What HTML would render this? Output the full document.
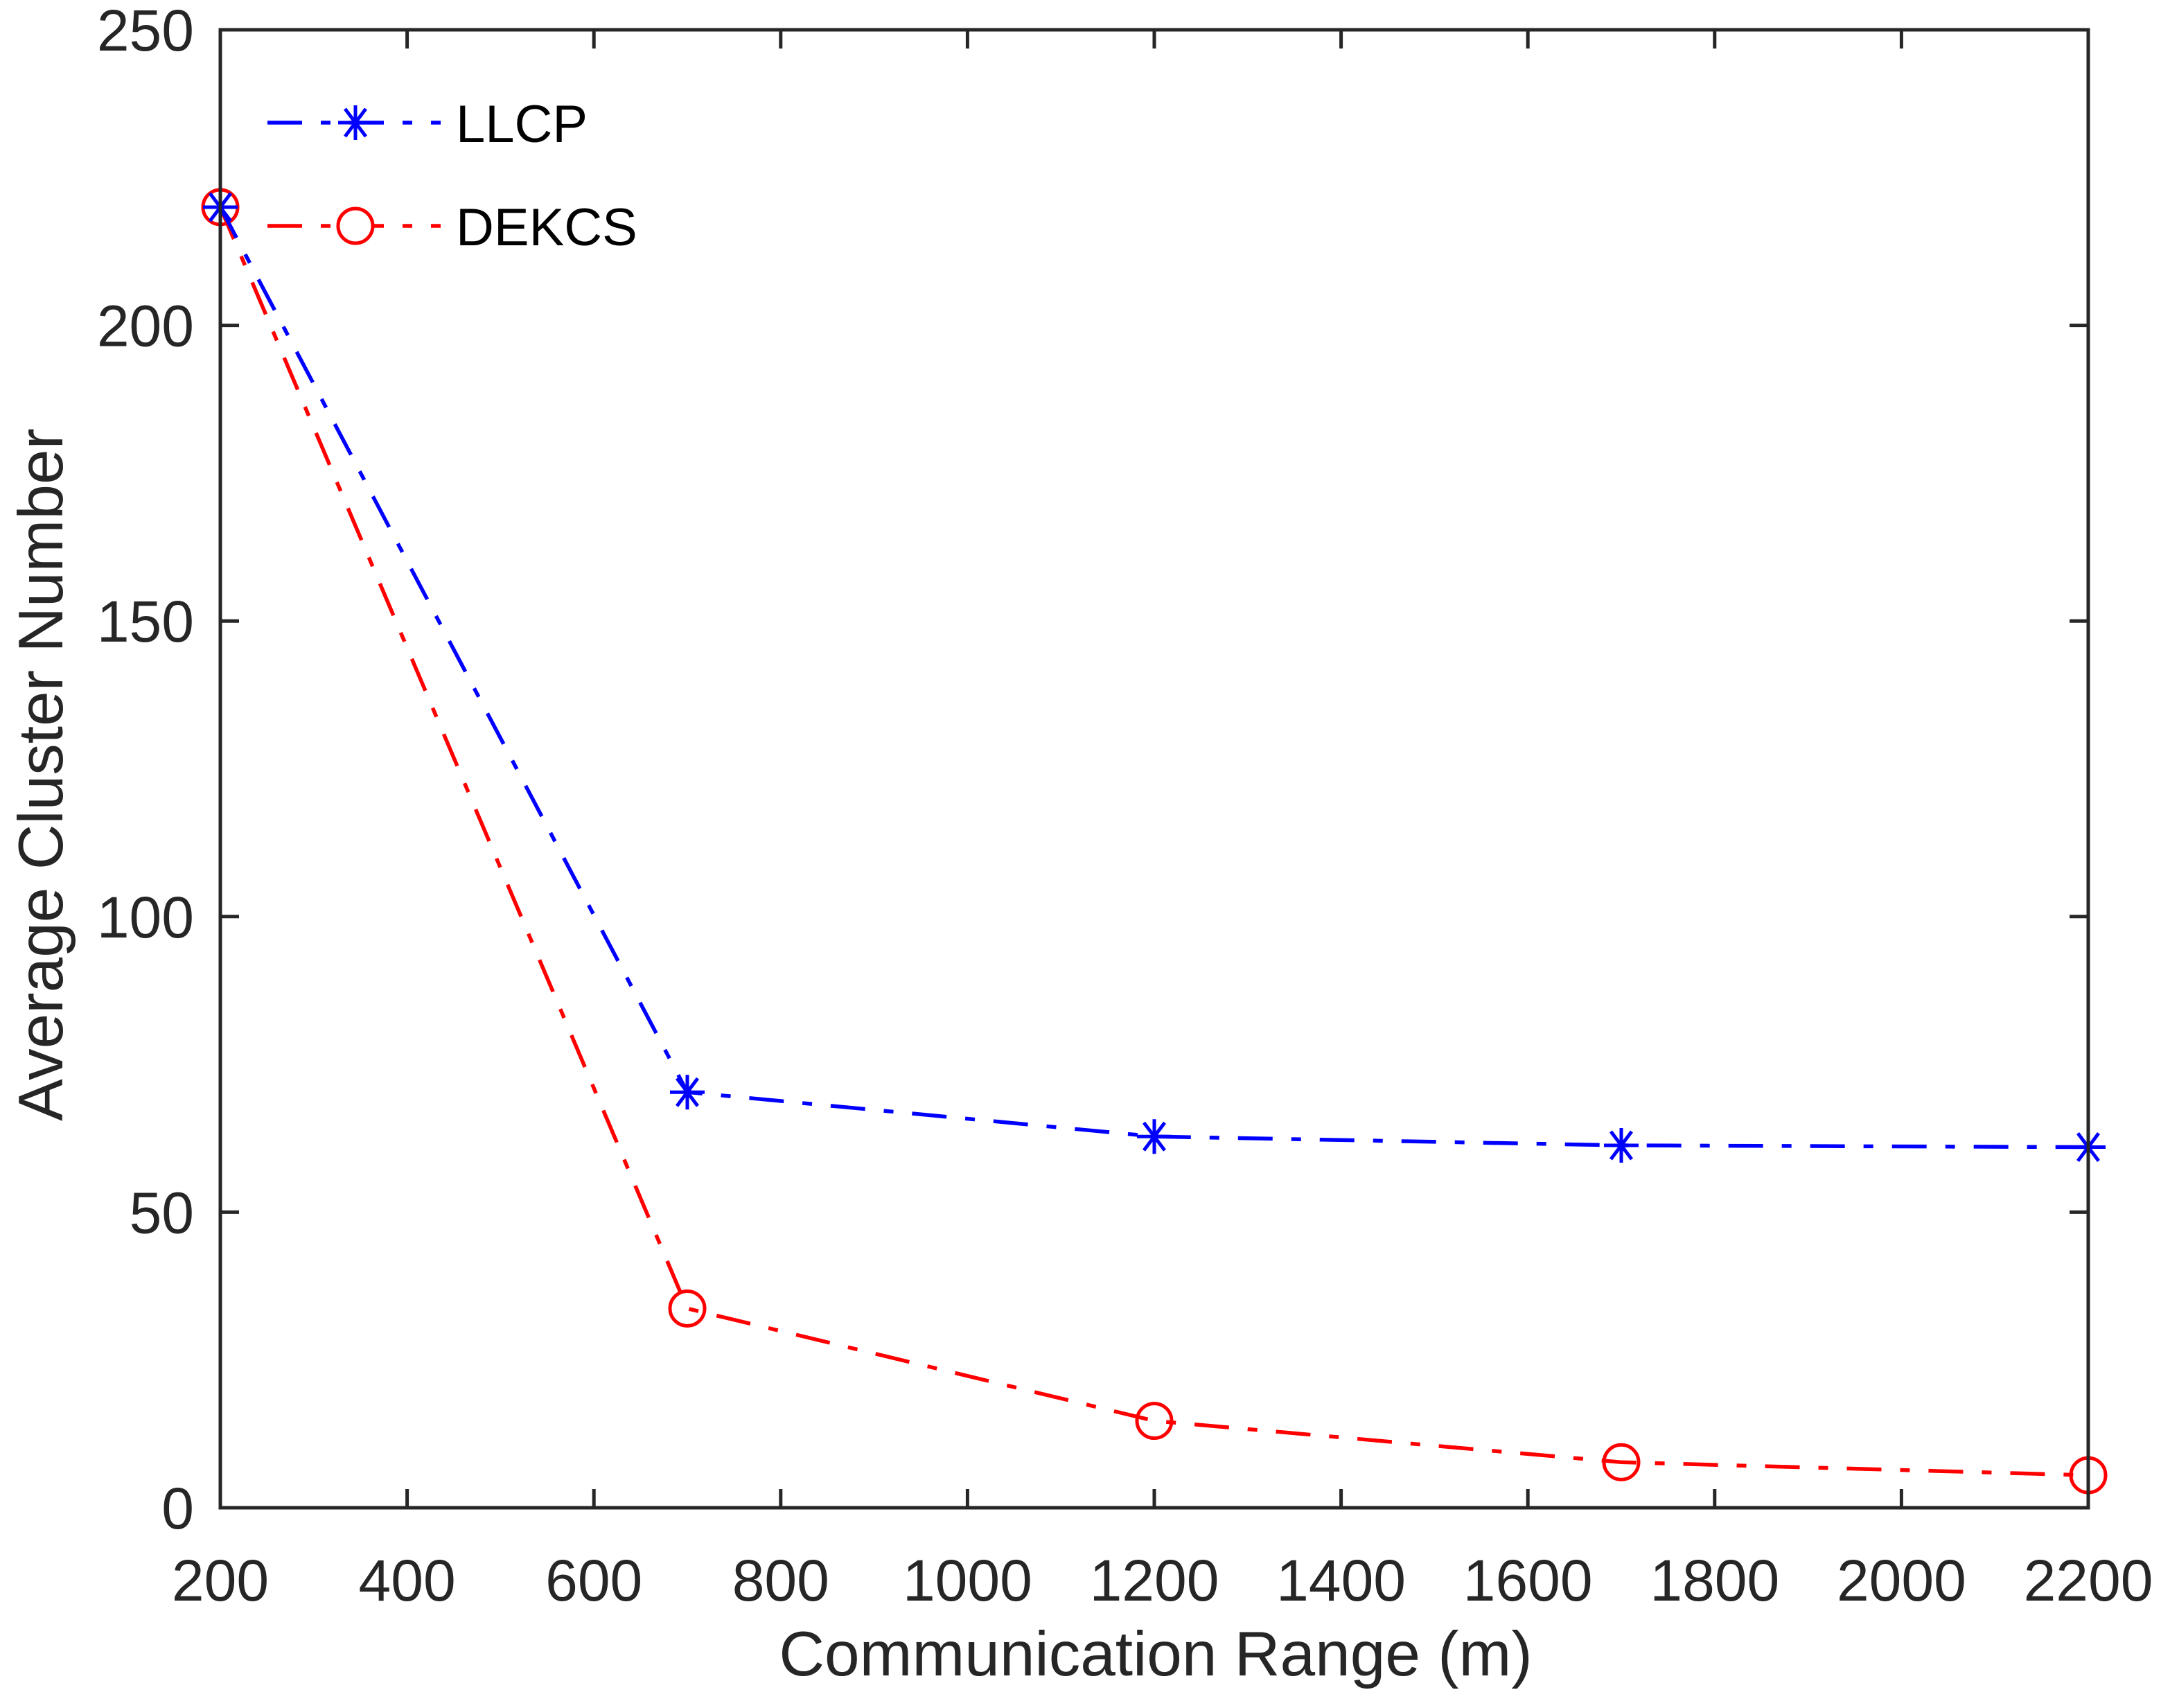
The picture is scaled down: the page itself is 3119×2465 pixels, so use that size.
<!DOCTYPE html>
<html><head><meta charset="utf-8"><style>
html,body{margin:0;padding:0;background:#fff;}
svg text{font-family:"Liberation Sans",Arial,sans-serif;fill:#262626;}
</style></head><body>
<svg id="chart" width="3119" height="2460" xmlns="http://www.w3.org/2000/svg">
<rect width="3119" height="2460" fill="#fff"/>
<g id="grid"></g>
<g id="series"></g>
<rect x="318" y="43" width="2696" height="2133" fill="none" stroke="#262626" stroke-width="5"/>
<text x="1668" y="2418" font-size="91" text-anchor="middle">Communication Range (m)</text>
<text transform="translate(90,1118) rotate(-90)" font-size="91" text-anchor="middle">Average Cluster Number</text>
<g>
  <line x1="386" y1="177" x2="636" y2="177" stroke="#0000ff" stroke-width="5.5" stroke-dasharray="50,27,14,27"/>
  <g id="lm1"></g>
  <text x="658" y="205" font-size="76" style="fill:#000">LLCP</text>
  <line x1="386" y1="326" x2="636" y2="326" stroke="#ff0000" stroke-width="5.5" stroke-dasharray="50,27,14,27"/>
  <circle cx="513" cy="326" r="25" fill="#fff" stroke="#ff0000" stroke-width="5"/>
  <text x="658" y="354" font-size="76" style="fill:#000">DEKCS</text>
</g>
</svg>
<script>
const xCategories = [200, 700, 1200, 1700, 2200];
const llcpValues = [220, 70.3, 62.8, 61.3, 61];
const dekcsValues = [220, 33.7, 14.7, 7.7, 5.5];
const xTicks = [200, 400, 600, 800, 1000, 1200, 1400, 1600, 1800, 2000, 2200];
const yTicks = [0, 50, 100, 150, 200, 250];

const L=318,R=3014,T=43,B=2176;
const xs=v=>L+(v-200)/2000*(R-L);
const ys=v=>B-v/250*(B-T);
const NS="http://www.w3.org/2000/svg";
const g=document.getElementById('grid'), s=document.getElementById('series');
function mk(tag,attrs,parent){const e=document.createElementNS(NS,tag);for(const k in attrs)e.setAttribute(k,attrs[k]);parent.appendChild(e);return e;}
xTicks.forEach(t=>{
  const x=xs(t);
  const l1=mk('line',{x1:x,y1:B,x2:x,y2:B-27,stroke:'#262626','stroke-width':5},g);
  
  
  const l2=mk('line',{x1:x,y1:T,x2:x,y2:T+27,stroke:'#262626','stroke-width':5},g);
  
  
  const tx=mk('text',{x:x,y:2310,'font-size':84,'text-anchor':'middle'},g);
  tx.textContent=t;
  
  
});
yTicks.forEach(t=>{
  const y=ys(t);
  const l1=mk('line',{x1:L,y1:y,x2:L+27,y2:y,stroke:'#262626','stroke-width':5},g);
  
  
  const l2=mk('line',{x1:R,y1:y,x2:R-27,y2:y,stroke:'#262626','stroke-width':5},g);
  
  
  const tx=mk('text',{x:280,y:y+30,'font-size':84,'text-anchor':'end'},g);
  tx.textContent=t;
  
  
});
function star(cx,cy,parent,r){
  const grp=mk('g',{stroke:'#0000ff','stroke-width':5},parent);
  [[r,0],[0,r],[r*0.6,r*0.8],[r*0.6,-r*0.8]].forEach(([dx,dy])=>mk('line',{x1:cx-dx,y1:cy-dy,x2:cx+dx,y2:cy+dy},grp));
  return grp;
}
function series(vals,color,name,marker){
  const pts=vals.map((v,i)=>xs(xCategories[i])+','+ys(v)).join(' ');
  const pl=mk('polyline',{points:pts,fill:'none',stroke:color,'stroke-width':5.5,'stroke-dasharray':'50,27,14,27'},s);
  
  
  vals.forEach((v,i)=>{
    let m;
    if(marker==='o'){m=mk('circle',{cx:xs(xCategories[i]),cy:ys(v),r:25,fill:'none',stroke:color,'stroke-width':5},s);}
    else{m=star(xs(xCategories[i]),ys(v),s,25);}
    
    
  });
}
series(dekcsValues,'#ff0000','dekcs','o');
series(llcpValues,'#0000ff','llcp','*');
star(513,177,document.getElementById('lm1'),25);
</script>
</body></html>
